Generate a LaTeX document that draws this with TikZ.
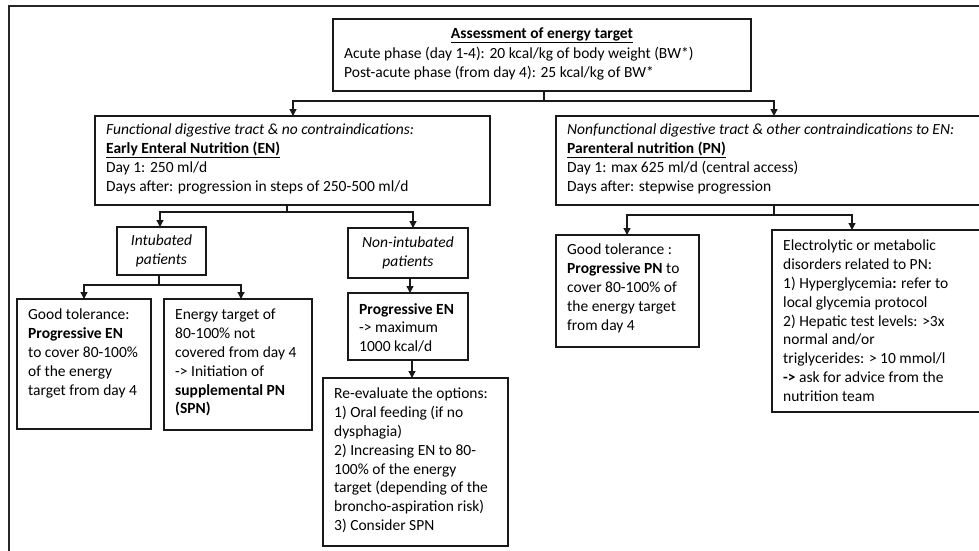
\documentclass[tikz,border=0pt]{standalone}
\usepackage{fontspec}
\setmainfont{Carlito}
\usetikzlibrary{arrows.meta,calc}
\begin{document}
\begin{tikzpicture}[x=1pt,y=-1pt,
  box/.style={draw=black!90, line width=1.4pt, anchor=north west, inner sep=0pt, outer sep=0pt},
  txt/.style={anchor=north west, inner sep=0pt, align=left, font=\fontsize{15.5}{18.8}\selectfont},
  ctxt/.style={inner sep=0pt, align=center, font=\fontsize{15.5}{18.8}\selectfont},
  conn/.style={draw=black!90, line width=1.3pt},
  arr/.style={conn, -{Triangle[length=7pt,width=7pt]}}
]
\useasboundingbox (0,0) rectangle (979,551);
\draw[line width=1.4pt, black!85] (9,6) rectangle (995,570);

% boxes
\node[box, minimum width=418pt, minimum height=72pt] (top) at (333,19) {};
\node[box, minimum width=395pt, minimum height=89pt] (en) at (95,116) {};
\node[box, minimum width=440pt, minimum height=89pt] (pn) at (556,116) {};
\node[box, minimum width=89pt, minimum height=48pt] (intub) at (117,227) {};
\node[box, minimum width=120pt, minimum height=50pt] (nonint) at (348,228) {};
\node[box, minimum width=134pt, minimum height=130pt] (gten) at (17,299) {};
\node[box, minimum width=148pt, minimum height=131pt] (eten) at (164,299) {};
\node[box, minimum width=120pt, minimum height=67pt] (progen) at (348,293) {};
\node[box, minimum width=185pt, minimum height=168pt] (reeval) at (323,378) {};
\node[box, minimum width=143pt, minimum height=112pt] (gtpn) at (556,235) {};
\node[box, minimum width=224pt, minimum height=182pt] (elec) at (772,230) {};

% texts
\node[ctxt] (toptitle) at (542,35) {\textbf{\underline{Assessment of energy target}}};
\node[txt] (topbody) at (344,47) {Acute phase (day 1-4): 20 kcal/kg of body weight (BW*)\\Post-acute phase (from day 4): 25 kcal/kg of BW*};
\node[txt] (entxt) at (106,124) {\textit{Functional digestive tract \& no contraindications:}\\\textbf{\underline{Early Enteral Nutrition (EN)}}\\Day 1: 250 ml/d\\Days after: progression in steps of 250-500 ml/d};
\node[txt] (pntxt) at (567,124) {\textit{Nonfunctional digestive tract \& other contraindications to EN:}\\\textbf{\underline{Parenteral nutrition (PN)}}\\Day 1: max 625 ml/d (central access)\\Days after: stepwise progression};
\node[ctxt] (intubtxt) at (intub.center) {\textit{Intubated}\\\textit{patients}};
\node[ctxt] (noninttxt) at (nonint.center) {\textit{Non-intubated}\\\textit{patients}};
\node[txt] (gtentxt) at (28,309) {Good tolerance:\\\textbf{Progressive EN}\\to cover 80-100\%\\of the energy\\target from day 4};
\node[txt] (etentxt) at (175,309) {Energy target of\\80-100\% not\\covered from day 4\\-> Initiation of\\\textbf{supplemental PN}\\\textbf{(SPN)}};
\node[txt] (progentxt) at (359,303) {\textbf{Progressive EN}\\-> maximum\\1000 kcal/d};
\node[txt] (reevaltxt) at (334,388) {Re-evaluate the options:\\1) Oral feeding (if no\\dysphagia)\\2) Increasing EN to 80-\\100\% of the energy\\target (depending of the\\broncho-aspiration risk)\\3) Consider SPN};
\node[txt] (gtpntxt) at (567,244) {Good tolerance :\\\textbf{Progressive PN} to\\cover 80-100\% of\\the energy target\\from day 4};
\node[txt] (electxt) at (783,240) {Electrolytic or metabolic\\disorders related to PN:\\1) Hyperglycemia\textbf{:} refer to\\local glycemia protocol\\2) Hepatic test levels: >3x\\normal and/or\\triglycerides: > 10 mmol/l\\\textbf{->} ask for advice from the\\nutrition team};

% connectors
\draw[conn] ($(top.south west)+(211,0)$) -- ++(0,10) coordinate (j1);
\draw[arr] (j1) -| ($(en.north west)+(198,0)$);
\draw[arr] (j1) -| ($(pn.north west)+(218,0)$);

\draw[conn] ($(en.south west)+(192,0)$) -- ++(0,7) coordinate (j2);
\draw[arr] (j2) -| ($(intub.north west)+(43,0)$);
\draw[arr] (j2) -| ($(nonint.north west)+(65,0)$);

\draw[conn] ($(intub.south west)+(42,0)$) -- ++(0,10) coordinate (j3);
\draw[arr] (j3) -| ($(gten.north west)+(67,0)$);
\draw[arr] (j3) -| ($(eten.north west)+(77,0)$);

\coordinate (a4) at ($(nonint.south west)+(62,0)$);
\draw[arr] (a4) -- (a4 |- progen.north);
\coordinate (a5) at ($(progen.south west)+(64,0)$);
\draw[arr] (a5) -- (a5 |- reeval.north);

\draw[conn] ($(pn.south west)+(218,0)$) -- ++(0,10) coordinate (j4);
\draw[arr] (j4) -| ($(gtpn.north west)+(71,0)$);
\draw[arr] (j4) -| ($(elec.north west)+(80,0)$);
\end{tikzpicture}
\end{document}
